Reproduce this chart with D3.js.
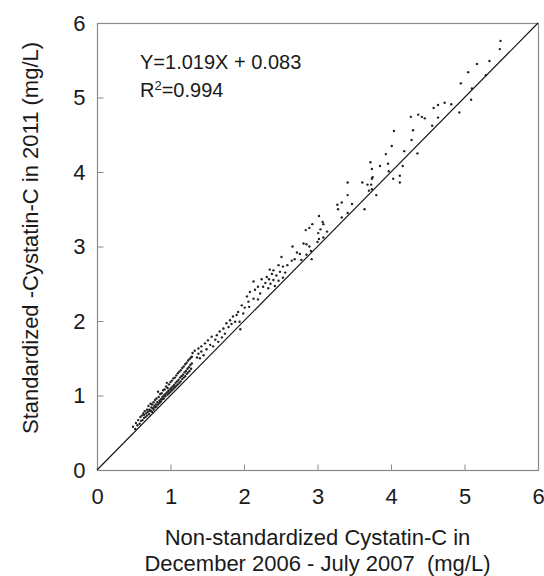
<!DOCTYPE html>
<html>
<head>
<meta charset="utf-8">
<title></title>
<style>
  body { margin: 0; background: #fff; }
  text { font-family: "Liberation Sans", Arial, sans-serif; fill: #1a1a1a; }
</style>
</head>
<body>
<script src="https://cdn.jsdelivr.net/npm/d3@7"></script>
<script>
var width = 544, height = 576;
var margin = {top: 23, right: 6, bottom: 106, left: 97};

// axis ticks
var xTicks = [0, 1, 2, 3, 4, 5, 6];
var yTicks = [0, 1, 2, 3, 4, 5, 6];
var identityLine = [[0, 0], [6, 6]];

// points (x = non-standardized, y = standardized)
var lowBand = [
  [0.49,0.58],[0.52,0.55],[0.53,0.63],[0.55,0.60],[0.56,0.67],[0.58,0.62],[0.59,0.71],[0.60,0.66],
  [0.61,0.73],[0.62,0.67],[0.63,0.76],[0.64,0.70],[0.64,0.74],[0.65,0.79],[0.66,0.71],[0.67,0.76],
  [0.68,0.81],[0.68,0.73],[0.69,0.78],[0.70,0.86],[0.71,0.75],[0.71,0.81],[0.72,0.79],[0.73,0.89],
  [0.73,0.80],[0.74,0.84],[0.75,0.78],[0.75,0.88],[0.76,0.83],[0.77,0.81],[0.77,0.91],[0.78,0.86],
  [0.79,0.84],[0.79,0.94],[0.80,0.88],[0.81,0.85],[0.81,0.96],[0.82,0.91],[0.83,1.05],[0.83,0.88],
  [0.84,0.98],[0.85,0.93],[0.85,0.90],[0.86,1.02],[0.87,0.95],[0.87,0.92],[0.88,1.03],[0.89,0.98],
  [0.89,0.95],[0.90,1.07],[0.91,1.00],[0.91,0.96],[0.92,1.08],[0.93,1.02],[0.93,0.99],[0.94,1.12],
  [0.95,1.04],[0.95,1.17],[0.96,1.01],[0.96,1.10],[0.97,1.06],[0.98,1.03],[0.98,1.15],[0.99,1.08],
  [1.00,1.05],[1.00,1.18],[1.01,1.10],[1.02,1.07],[1.02,1.20],[1.03,1.12],[1.04,1.09],[1.04,1.23],
  [1.05,1.14],[1.06,1.11],[1.06,1.24],[1.07,1.17],[1.08,1.13],[1.08,1.27],[1.09,1.19],[1.10,1.15],
  [1.10,1.30],[1.11,1.21],[1.12,1.17],[1.12,1.32],[1.13,1.24],[1.14,1.19],[1.14,1.34],[1.15,1.26],
  [1.16,1.22],[1.16,1.37],[1.17,1.28],[1.18,1.24],[1.18,1.39],[1.19,1.31],[1.20,1.26],[1.20,1.42],
  [1.21,1.33],[1.22,1.29],[1.22,1.44],[1.23,1.36],[1.24,1.31],[1.24,1.47],[1.25,1.38],[1.26,1.33],
  [1.26,1.49],[1.27,1.41],[1.28,1.36],[1.28,1.51],[1.29,1.43]
];
var midBand = [
  [1.29,1.52],[1.30,1.57],[1.33,1.60],[1.36,1.51],[1.38,1.56],[1.38,1.63],[1.40,1.50],[1.42,1.59],
  [1.42,1.66],[1.45,1.54],[1.47,1.70],[1.49,1.62],[1.51,1.74],[1.54,1.68],[1.56,1.79],[1.58,1.66],
  [1.61,1.75],[1.63,1.81],[1.65,1.72],[1.67,1.86],[1.70,1.78],[1.72,1.90],[1.74,1.83],[1.76,1.97],
  [1.79,1.92],[1.81,2.01],[1.83,1.96],[1.85,2.06],[1.88,1.99],[1.90,2.08],[1.92,2.12],[1.94,1.99],
  [1.95,1.89],[1.97,2.21],[1.99,2.10],[2.01,2.18],[2.04,2.33],[2.06,2.26],[2.07,2.19],[2.08,2.39],
  [2.13,2.53],[2.13,2.30],[2.15,2.42],[2.19,2.46],[2.19,2.29],[2.22,2.37]
];
var upperBand = [
  [2.24,2.56],[2.26,2.46],[2.29,2.51],[2.31,2.59],[2.33,2.44],[2.34,2.56],[2.35,2.69],[2.36,2.50],
  [2.38,2.63],[2.40,2.68],[2.40,2.55],[2.42,2.47],[2.44,2.61],[2.47,2.75],[2.47,2.54],[2.49,2.66],
  [2.51,2.86],[2.53,2.73],[2.53,2.58],[2.56,2.65],[2.59,2.75],[2.65,2.81],[2.66,3.00],[2.69,2.83],
  [2.72,2.92],[2.76,2.90],[2.78,2.82],[2.81,3.04],[2.84,3.22],[2.85,3.03],[2.85,2.89],[2.89,3.25],
  [2.89,3.00],[2.91,2.94],[2.92,2.83],[2.93,3.30],[3.00,3.06],[3.01,3.18],[3.02,3.41],[3.02,3.10],
  [3.04,3.23],[3.07,3.33],[3.08,3.30],[3.08,3.12],[3.13,3.20],[3.27,3.56],[3.28,3.50],[3.33,3.39],
  [3.33,3.59],[3.41,3.45],[3.41,3.69],[3.41,3.86],[3.47,3.57],[3.61,3.86],[3.64,3.50],[3.68,3.83],
  [3.70,3.75],[3.72,4.13],[3.73,3.83],[3.74,3.77],[3.74,4.04],[3.74,3.91],[3.75,3.93],[3.80,3.69],
  [3.85,4.08],[3.93,4.24],[3.96,4.11],[3.97,4.01],[4.01,4.35],[4.03,3.91],[4.04,4.55],[4.12,3.95],
  [4.12,3.86],[4.16,4.08],[4.18,4.28],[4.27,4.74],[4.28,4.43],[4.30,4.56],[4.36,4.25],[4.37,4.77]
];
var topBand = [
  [4.42,4.74],[4.46,4.72],[4.56,4.62],[4.58,4.86],[4.64,4.90],[4.64,4.73],[4.73,4.93],[4.82,4.91],
  [4.93,4.80],[4.95,5.19],[5.05,5.34],[5.09,4.97],[5.10,5.12],[5.17,5.45],[5.29,5.30],[5.34,5.49],
  [5.48,5.65],[5.49,5.76]
];
var points = lowBand.concat(midBand, upperBand, topBand);

var svg = d3.select("body").append("svg")
    .attr("width", width)
    .attr("height", height);

var pw = width - margin.left - margin.right;
var ph = height - margin.top - margin.bottom;

var x = d3.scaleLinear().domain([0, 6]).range([margin.left, margin.left + pw]);
var y = d3.scaleLinear().domain([0, 6]).range([margin.top + ph, margin.top]);

// frame
svg.append("rect")
    .attr("x", x(0) + 0.5).attr("y", y(6) + 0.5)
    .attr("width", x(6) - x(0)).attr("height", y(0) - y(6))
    .attr("fill", "none").attr("stroke", "#8a8a8a").attr("stroke-width", 1.2);

// inward ticks
var xAxis = d3.axisBottom(x).tickValues(xTicks).tickSize(-6).tickPadding(18).tickFormat(d3.format("d"));
var gx = svg.append("g").attr("transform", "translate(0," + (y(0) + 0.5) + ")").call(xAxis);
gx.select(".domain").remove();
gx.selectAll("line").attr("stroke", "#8a8a8a");
gx.selectAll("text").attr("font-size", "22px").attr("fill", "#1a1a1a")
    .attr("font-family", "Liberation Sans, Arial, sans-serif");

var yAxis = d3.axisLeft(y).tickValues(yTicks).tickSize(-6).tickPadding(12).tickFormat(d3.format("d"));
var gy = svg.append("g").attr("transform", "translate(" + (x(0) + 0.5) + ",0)").call(yAxis);
gy.select(".domain").remove();
gy.selectAll("line").attr("stroke", "#8a8a8a");
gy.selectAll("text").attr("font-size", "22px").attr("fill", "#1a1a1a")
    .attr("font-family", "Liberation Sans, Arial, sans-serif");

// y = x line
var line = d3.line().x(function(d){ return x(d[0]); }).y(function(d){ return y(d[1]); });
svg.append("path")
    .datum(identityLine)
    .attr("d", line)
    .attr("fill", "none").attr("stroke", "#111").attr("stroke-width", 1.1);

// points
svg.append("g").selectAll("circle")
    .data(points)
    .enter()
    .append("circle")
    .attr("cx", function(d){ return x(d[0]); })
    .attr("cy", function(d){ return y(d[1]); })
    .attr("r", 1.2)
    .attr("fill", "#222");

// equation
svg.append("text").attr("x", 140).attr("y", 69).attr("font-size", "20px")
    .text("Y=1.019X + 0.083");
var r2 = svg.append("text").attr("x", 140).attr("y", 97).attr("font-size", "20px");
r2.append("tspan").text("R");
r2.append("tspan").attr("font-size", "13px").attr("dy", -7).text("2");
r2.append("tspan").attr("dy", 7).text("=0.994");

// axis titles
var cx = (x(0) + x(6)) / 2;
svg.append("text").attr("x", cx).attr("y", 545).attr("text-anchor", "middle").attr("font-size", "22px")
    .text("Non-standardized Cystatin-C in");
svg.append("text").attr("x", cx).attr("y", 571).attr("text-anchor", "middle").attr("font-size", "22px")
    .text("December 2006 - July 2007  (mg/L)")
    .attr("xml:space", "preserve").style("white-space", "pre");

svg.append("text")
    .attr("transform", "translate(38," + 238 + ") rotate(-90)")
    .attr("text-anchor", "middle").attr("font-size", "22px")
    .text("Standardized -Cystatin-C in 2011 (mg/L)");
</script>
</body>
</html>
